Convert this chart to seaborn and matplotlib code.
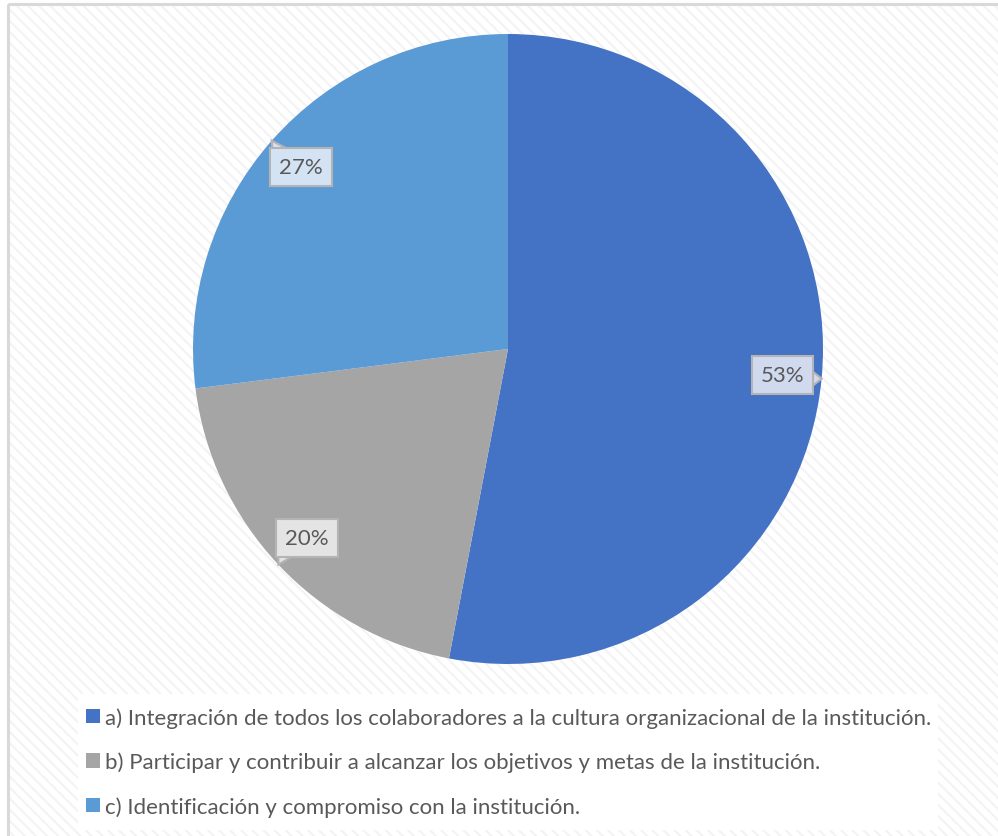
import numpy as np
import matplotlib
matplotlib.use("Agg")
import matplotlib.pyplot as plt
from matplotlib.patches import Rectangle, Polygon
import seaborn as sns

categories = [
    "a) Integración de todos los colaboradores a la cultura organizacional de la institución.",
    "b) Participar y contribuir a alcanzar los objetivos y metas de la institución.",
    "c) Identificación y compromiso con la institución.",
]
values = [53, 20, 27]
slice_colors = ["#4472C4", "#A5A5A5", "#5B9BD5"]
callout_fill = ["#D0D9EE", "#E4E4E4", "#D4E3F3"]

sns.set_theme(style="white")
plt.rcParams["font.family"] = ["Lato", "DejaVu Sans"]
text_color = "#595959"
edge_gray = "#B4B4B4"

W, H = 998, 837
fig = plt.figure(figsize=(W / 100, H / 100), dpi=100)
fig.patch.set_facecolor("white")

# hatched chart-area background
matplotlib.rcParams["hatch.linewidth"] = 1.5
bg = fig.add_axes([0, 0, 1, 1])
bg.set_xlim(0, W)
bg.set_ylim(H, 0)
bg.axis("off")
bg.add_patch(Rectangle((8, 5), W, H, facecolor="white", edgecolor="#F3F3F3",
                       hatch="\\\\\\", linewidth=0))
bg.add_patch(Rectangle((8, 5), W + 10, H + 10, facecolor="none",
                       edgecolor="#D9D9D9", linewidth=2.2))
# white backing behind the legend
bg.add_patch(Rectangle((78, 695), 860, 136, facecolor="white", edgecolor="none"))

# pie axes: centre (508, 350) px, radius 315 px
cx, cy, r = 508, 350, 315
ax = fig.add_axes([(cx - r) / W, 1 - (cy + r) / H, 2 * r / W, 2 * r / H])

wedges, _ = ax.pie(values, colors=slice_colors, startangle=90, counterclock=False,
                   radius=1.0, wedgeprops=dict(linewidth=0))
ax.set_xlim(-1, 1)
ax.set_ylim(-1, 1)
ax.set_aspect("equal")
ax.axis("off")

total = sum(values)
callouts = []
for w, v, fill in zip(wedges, values, callout_fill):
    mid = np.deg2rad((w.theta1 + w.theta2) / 2)
    tip = (np.cos(mid), np.sin(mid))
    box = (0.875 * np.cos(mid), 0.875 * np.sin(mid))
    t = ax.text(box[0], box[1], f"{v / total * 100:.0f}%",
                ha="center", va="center", fontsize=16, color=text_color, zorder=4,
                bbox=dict(boxstyle="square,pad=0.4", fc=fill, ec=edge_gray, lw=1.5))
    callouts.append((t, tip, fill))

# callout pointers: a triangle from the box side that faces the slice edge
fig.canvas.draw()
renderer = fig.canvas.get_renderer()
to_data = ax.transData.inverted()
base_w = 16  # px
for t, tip, fill in callouts:
    ext = t.get_bbox_patch().get_window_extent(renderer)
    tx, ty = ax.transData.transform(tip)
    x0, y0, x1, y1 = ext.x0, ext.y0, ext.x1, ext.y1
    inset = 1.5
    if tx > x1 and y0 <= ty <= y1 + 20 and tx - x1 > ty - y1:
        yc = np.clip(ty, y0 + base_w / 2 + 2, y1 - base_w / 2 - 2)
        p1, p2 = (x1 - inset, yc - base_w / 2), (x1 - inset, yc + base_w / 2)
    elif ty > y1:
        xc = np.clip(tx, x0 + base_w / 2 + 2, x1 - base_w / 2 - 2)
        p1, p2 = (xc - base_w / 2, y1 - inset), (xc + base_w / 2, y1 - inset)
    elif ty < y0:
        xc = np.clip(tx, x0 + base_w / 2 + 2, x1 - base_w / 2 - 2)
        p1, p2 = (xc - base_w / 2, y0 + inset), (xc + base_w / 2, y0 + inset)
    else:
        yc = np.clip(ty, y0 + base_w / 2 + 2, y1 - base_w / 2 - 2)
        p1, p2 = (x0 + inset, yc - base_w / 2), (x0 + inset, yc + base_w / 2)
    pts = to_data.transform([p1, (tx, ty), p2])
    ax.add_patch(Polygon(pts, closed=True, fc=fill, ec=edge_gray, lw=1.5,
                         zorder=3, joinstyle="miter"))

leg = fig.legend(wedges, categories, loc="upper left",
                 bbox_to_anchor=(86 / W, 1 - 708 / H),
                 frameon=False, fontsize=16.0, labelcolor=text_color,
                 handlelength=0.62, handleheight=0.62, handletextpad=0.25,
                 labelspacing=1.08, borderaxespad=0, borderpad=0)

fig.savefig("out.png", dpi=100)
